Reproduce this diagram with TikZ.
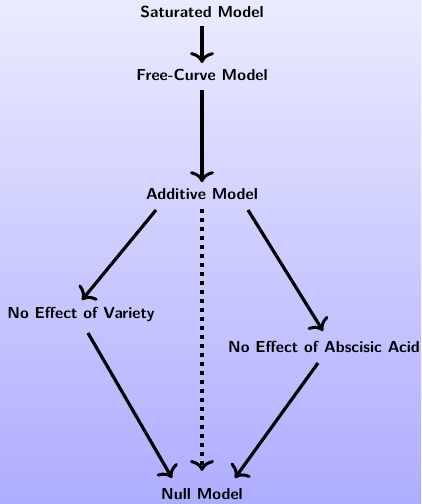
\documentclass[tikz,border=0pt]{standalone}
\usetikzlibrary{arrows.meta}
\begin{document}
\begin{tikzpicture}[x=1bp,y=1bp,
  lbl/.style={font=\fontsize{16}{18}\selectfont\sffamily\bfseries, inner sep=0pt},
  tip/.style={-{To[length=11bp,width=24bp,line width=3bp]}},
  arr/.style={line width=3.2bp, tip},
  dotarr/.style={line width=3.4bp, dash pattern=on 4bp off 5bp, tip}]
\fill[top color=blue!8, bottom color=blue!32] (0,0) rectangle (421,504);
\useasboundingbox (0,0) rectangle (421,504);
\node[lbl] (sat) at (202,492) {Saturated Model};
\node[lbl] (free) at (202,429) {Free-Curve Model};
\node[lbl] (add) at (202,310) {Additive Model};
\node[lbl] (var) at (81,189) {No Effect of Variety};
\node[lbl] (aba) at (324,157) {No Effect of Abscisic Acid};
\node[lbl] (null) at (202,10) {Null Model};
\draw[arr] ([yshift=-8]sat.south) -- ([yshift=6]free.north);
\draw[arr] ([yshift=-9]free.south) -- ([yshift=6]add.north);
\draw[arr] (156,294) -- (82,204);
\draw[arr] (248,294) -- (323,173);
\draw[dotarr] ([yshift=-9]add.south) -- (202,33);
\draw[arr] (88,171) -- (172,26);
\draw[arr] (318,141) -- (235,26);
\end{tikzpicture}
\end{document}
